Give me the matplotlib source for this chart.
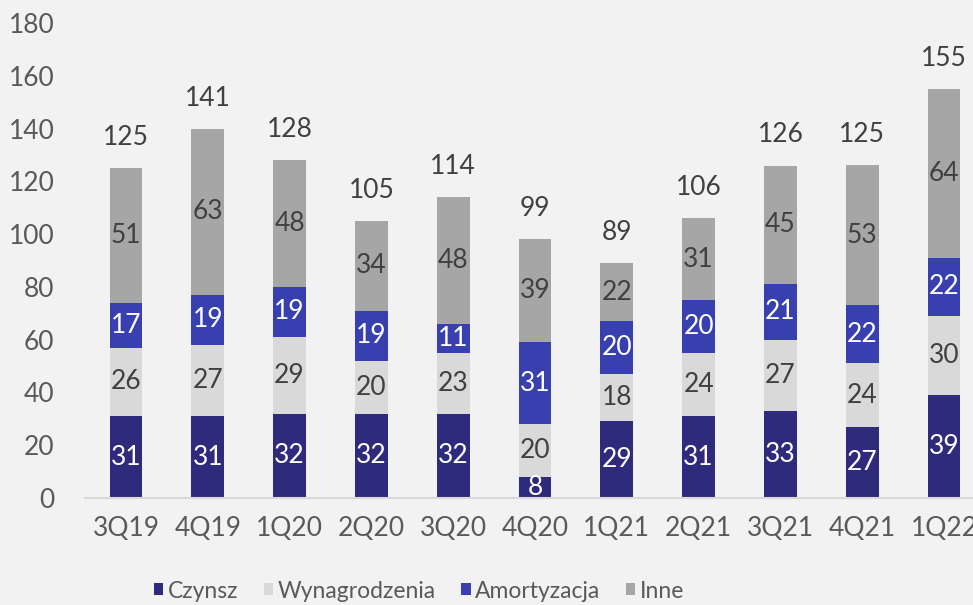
import matplotlib
matplotlib.use("Agg")
import matplotlib.pyplot as plt
import numpy as np

quarters = ["3Q19", "4Q19", "1Q20", "2Q20", "3Q20", "4Q20", "1Q21", "2Q21", "3Q21", "4Q21", "1Q22"]
czynsz = [31, 31, 32, 32, 32, 8, 29, 31, 33, 27, 39]
wynagrodzenia = [26, 27, 29, 20, 23, 20, 18, 24, 27, 24, 30]
amortyzacja = [17, 19, 19, 19, 11, 31, 20, 20, 21, 22, 22]
inne = [51, 63, 48, 34, 48, 39, 22, 31, 45, 53, 64]
totals = [125, 141, 128, 105, 114, 99, 89, 106, 126, 125, 155]

series = [
    ("Czynsz", czynsz, "#2E2A7C", "white"),
    ("Wynagrodzenia", wynagrodzenia, "#D9D9D9", "#404040"),
    ("Amortyzacja", amortyzacja, "#3740AE", "white"),
    ("Inne", inne, "#A6A6A6", "#404040"),
]

plt.rcParams["font.family"] = ["Lato", "DejaVu Sans"]
bg = "#F2F2F2"
fig = plt.figure(figsize=(9.73, 6.05), dpi=100, facecolor=bg)
left = 85 / 973
bottom = (605 - 498) / 605
top = 1 - 23 / 605
ax = fig.add_axes([left, bottom, 900 / 973, top - bottom], facecolor=bg)

x = np.arange(len(quarters))
width = 0.4
base = np.zeros(len(quarters))
fs = 19
for name, vals, color, tcolor in series:
    vals = np.array(vals, dtype=float)
    ax.bar(x, vals, width, bottom=base, color=color, label=name, zorder=2)
    for xi, b, v in zip(x, base, vals):
        ax.text(xi, b + v / 2, f"{int(v)}", ha="center", va="center",
                color=tcolor, fontsize=fs, zorder=3)
    base += vals

for xi, top_v, t in zip(x, base, totals):
    ax.annotate(f"{t}", (xi, top_v), xytext=(0, 13), textcoords="offset points",
                ha="center", va="bottom", color="#404040", fontsize=fs)

ax.set_xlim(-0.5, len(quarters) - 0.5)
ax.set_ylim(0, 180)
ax.set_yticks(np.arange(0, 181, 20))
ax.set_xticks(x)
ax.set_xticklabels(quarters)
ax.tick_params(axis="both", length=0, labelsize=fs, colors="#595959")
ax.tick_params(axis="x", pad=13)
ax.tick_params(axis="y", pad=22)
for side in ["top", "right", "left"]:
    ax.spines[side].set_visible(False)
ax.spines["bottom"].set_color("#D9D9D9")
ax.spines["bottom"].set_linewidth(1.5)

fig.legend(loc="center", bbox_to_anchor=(419 / 973, 1 - 591 / 605), ncol=4,
           frameon=False, fontsize=16.5, handlelength=0.42, handleheight=0.42,
           handletextpad=0.2, columnspacing=1.1, labelcolor="#595959")

fig.savefig("out.png", dpi=100, facecolor=bg)
